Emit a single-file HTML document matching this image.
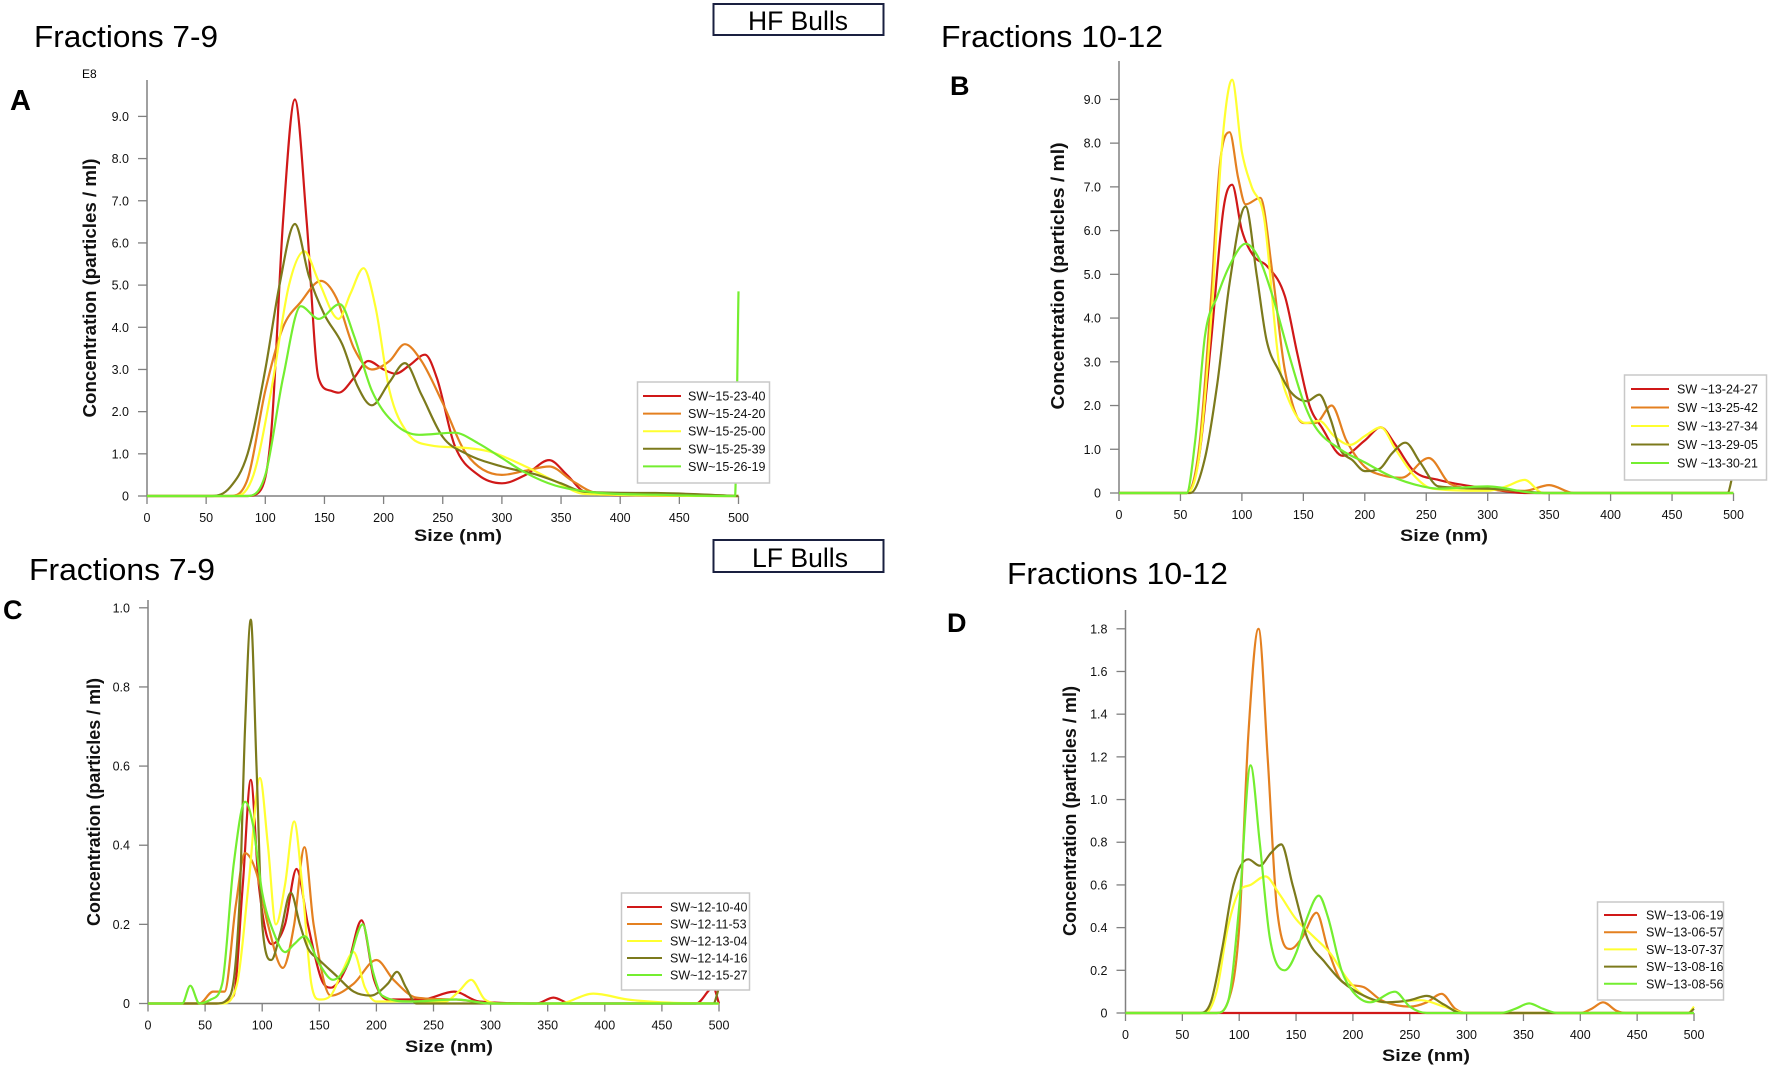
<!DOCTYPE html>
<html><head><meta charset="utf-8"><style>
html,body{margin:0;padding:0;background:#fff;}
svg{display:block;}
text{font-family:"Liberation Sans",sans-serif;}
</style></head><body>
<svg id="fig" width="1772" height="1065" viewBox="0 0 1772 1065" xmlns="http://www.w3.org/2000/svg">
<rect x="0" y="0" width="1772" height="1065" fill="#fff"/>
<text x="34" y="47" font-size="31" textLength="184" lengthAdjust="spacingAndGlyphs">Fractions 7-9</text>
<text x="941" y="47" font-size="31" textLength="222" lengthAdjust="spacingAndGlyphs">Fractions 10-12</text>
<text x="29" y="580" font-size="31" textLength="186" lengthAdjust="spacingAndGlyphs">Fractions 7-9</text>
<text x="1007" y="584" font-size="31" textLength="221" lengthAdjust="spacingAndGlyphs">Fractions 10-12</text>
<g><rect x="713.5" y="4" width="170" height="31" fill="#fff" stroke="#1a2040" stroke-width="2"/>
<text x="798" y="30" font-size="27" text-anchor="middle" textLength="100" lengthAdjust="spacingAndGlyphs">HF Bulls</text></g>
<g><rect x="713.5" y="540" width="170" height="32" fill="#fff" stroke="#1a2040" stroke-width="2"/>
<text x="800" y="567" font-size="27" text-anchor="middle" textLength="96" lengthAdjust="spacingAndGlyphs">LF Bulls</text></g>
<text x="10" y="110" font-size="29" font-weight="bold">A</text>
<text x="950" y="95" font-size="27" font-weight="bold">B</text>
<text x="3" y="619" font-size="27" font-weight="bold">C</text>
<text x="947" y="632" font-size="27" font-weight="bold">D</text>
<text x="82" y="78" font-size="12">E8</text>
</svg>
<script>
// ---- Panel A data (E8 particles/ml) ----
const aNames=["SW~15-23-40","SW~15-24-20","SW~15-25-00","SW~15-25-39","SW~15-26-19"];
const aRedX=[0,85,95,105,115,125,135,145,155,162,175,187,200,210,222,235,245,260,280,300,320,340,355,370,400,500];
const aRedY=[0,0,0.1,1.5,6.5,9.4,6.5,2.8,2.5,2.45,2.8,3.2,3.0,2.9,3.1,3.35,2.8,1.2,0.5,0.3,0.5,0.85,0.5,0.1,0.02,0];
const aOrX=[0,70,85,100,115,130,147,160,175,190,205,218,232,250,270,300,320,340,360,380,430,500];
const aOrY=[0,0,0.4,2.5,4.0,4.6,5.1,4.7,3.5,3.0,3.2,3.6,3.2,2.2,1.0,0.5,0.6,0.7,0.35,0.08,0.06,0];
const aYeX=[0,75,90,105,120,133,145,162,172,183,193,205,220,240,265,290,320,345,370,500];
const aYeY=[0,0,0.5,2.5,5.0,5.8,5.1,4.2,4.8,5.4,4.5,2.5,1.5,1.2,1.15,1.05,0.7,0.35,0.05,0];
const aOlX=[0,55,70,85,100,112,125,137,150,165,178,190,205,218,232,250,270,300,330,350,370,430,500];
const aOlY=[0,0,0.2,1.0,3.0,5.0,6.45,5.2,4.3,3.6,2.6,2.15,2.7,3.15,2.4,1.4,1.0,0.7,0.5,0.3,0.1,0.07,0];
const aGrX=[0,85,100,115,130,145,163,175,190,210,230,260,280,300,320,345,380,430,490,497,500];
const aGrY=[0,0,0.5,2.8,4.5,4.2,4.55,3.8,2.5,1.7,1.45,1.5,1.25,0.9,0.55,0.25,0.08,0.03,0,0,4.85];
const aTicksY=[0,1,2,3,4,5,6,7,8,9];
const aTickLabelsY=["0","1.0","2.0","3.0","4.0","5.0","6.0","7.0","8.0","9.0"];
// ---- Panel B data ----
const bNames=["SW ~13-24-27","SW ~13-25-42","SW ~13-27-34","SW ~13-29-05","SW ~13-30-21"];
const bRedX=[0,55,65,75,85,92,100,110,120,135,145,155,165,182,200,213,225,240,260,300,330,500];
const bRedY=[0,0,0.8,3.5,6.5,7.05,6.0,5.4,5.2,4.5,3.2,2.0,1.5,0.85,1.2,1.5,1.1,0.5,0.3,0.1,0,0];
const bOrX=[0,55,65,75,82,90,97,103,115,125,135,150,160,173,185,200,215,230,252,270,300,330,350,370,500];
const bOrY=[0,0,1.0,4.5,7.5,8.25,7.2,6.6,6.75,5.0,2.8,1.6,1.6,2.0,1.2,0.6,0.4,0.35,0.8,0.2,0.08,0.05,0.18,0,0];
const bYeX=[0,55,65,75,84,92,100,108,118,130,140,152,163,175,188,200,213,225,240,255,300,315,330,345,500];
const bYeY=[0,0,0.8,4.0,8.0,9.45,7.8,7.0,6.3,3.0,2.0,1.6,1.65,1.3,1.1,1.3,1.5,1.0,0.4,0.1,0.05,0.15,0.3,0,0];
const bOlX=[0,58,70,80,90,103,112,120,130,140,153,163,172,180,190,200,212,222,233,245,260,300,350,495,500];
const bOlY=[0,0,0.8,2.5,4.8,6.55,5.0,3.5,2.8,2.3,2.1,2.25,1.7,1.0,0.75,0.5,0.55,0.9,1.15,0.7,0.15,0.1,0,0,0.5];
const bGrX=[0,55,62,70,80,90,103,115,125,140,150,160,180,200,220,240,260,300,340,500];
const bGrY=[0,0,1.2,3.6,4.5,5.2,5.7,5.3,4.5,3.0,2.1,1.5,1.0,0.7,0.4,0.2,0.1,0.15,0,0];
const bTicksY=[0,1,2,3,4,5,6,7,8,9];
const bTickLabelsY=["0","1.0","2.0","3.0","4.0","5.0","6.0","7.0","8.0","9.0"];
// ---- Panel C data ----
const cNames=["SW~12-10-40","SW~12-11-53","SW~12-13-04","SW~12-14-16","SW~12-15-27"];
const cRedX=[0,60,75,83,90,97,108,120,130,140,152,160,175,187,198,210,240,268,290,340,355,370,480,495,500];
const cRedY=[0,0,0.02,0.3,0.565,0.3,0.15,0.2,0.34,0.2,0.06,0.04,0.1,0.21,0.06,0.01,0.01,0.03,0.005,0,0.015,0,0,0.04,0];
const cOrX=[0,45,57,67,77,85,95,105,118,128,137,145,160,180,200,215,235,270,300,500];
const cOrY=[0,0,0.03,0.03,0.25,0.38,0.33,0.2,0.09,0.2,0.395,0.2,0.02,0.05,0.11,0.06,0.015,0.01,0,0];
const cYeX=[0,65,78,88,98,105,112,120,128,135,143,150,160,170,180,190,200,260,272,283,295,310,360,390,420,450,500];
const cYeY=[0,0,0.05,0.3,0.57,0.4,0.2,0.3,0.46,0.3,0.05,0.01,0.02,0.08,0.13,0.04,0.005,0.005,0.03,0.06,0.01,0,0,0.025,0.01,0.003,0];
const cOlX=[0,60,72,80,85,90,95,100,108,116,125,133,140,150,165,180,195,210,218,226,235,300,495,500];
const cOlY=[0,0,0.02,0.25,0.7,0.97,0.6,0.2,0.11,0.18,0.28,0.2,0.14,0.11,0.07,0.03,0.02,0.05,0.08,0.04,0,0,0,0.04];
const cGrX=[0,30,37,45,55,65,75,85,92,100,110,120,128,137,150,162,175,188,197,205,230,270,300,500];
const cGrY=[0,0,0.045,0,0.01,0.05,0.35,0.51,0.45,0.28,0.18,0.13,0.15,0.17,0.1,0.06,0.1,0.2,0.08,0.02,0.005,0.01,0,0];
const cTicksY=[0,0.2,0.4,0.6,0.8,1.0];
const cTickLabelsY=["0","0.2","0.4","0.6","0.8","1.0"];
// ---- Panel D data ----
const dNames=["SW~13-06-19","SW~13-06-57","SW~13-07-37","SW~13-08-16","SW~13-08-56"];
const dRedX=[0,80,270,500];
const dRedY=[0,0,0,0];
const dOrX=[0,80,90,100,108,117,125,133,145,155,168,178,190,200,210,225,250,265,278,290,300,400,410,420,432,440,500];
const dOrY=[0,0,0.05,0.4,1.3,1.8,1.2,0.5,0.3,0.35,0.47,0.3,0.15,0.13,0.12,0.06,0.03,0.05,0.09,0.02,0,0,0.02,0.05,0.01,0,0];
const dYeX=[0,70,80,90,100,110,123,135,150,165,180,195,210,230,260,280,300,495,500];
const dYeY=[0,0,0.1,0.4,0.57,0.6,0.64,0.56,0.44,0.36,0.28,0.16,0.08,0.05,0.06,0.03,0,0,0.03];
const dOlX=[0,65,75,85,95,108,118,128,137,147,160,175,190,210,230,250,265,280,295,495,500];
const dOlY=[0,0,0.05,0.3,0.6,0.72,0.69,0.75,0.79,0.6,0.35,0.24,0.15,0.08,0.05,0.06,0.08,0.04,0,0,0.02];
const dGrX=[0,80,90,100,110,118,127,140,150,160,170,178,190,200,215,237,250,265,330,343,355,367,380,500];
const dGrY=[0,0,0.05,0.5,1.16,0.8,0.35,0.2,0.28,0.45,0.55,0.45,0.2,0.1,0.05,0.1,0.03,0,0,0.02,0.045,0.02,0,0];
const dTicksY=[0,0.2,0.4,0.6,0.8,1.0,1.2,1.4,1.6,1.8];
const dTickLabelsY=["0","0.2","0.4","0.6","0.8","1.0","1.2","1.4","1.6","1.8"];
const xTicks=[0,50,100,150,200,250,300,350,400,450,500];
const colors=["#d01818","#e48020","#ffff30","#7c7a1c","#74ee30"];

const NS="http://www.w3.org/2000/svg";
const svg=document.getElementById('fig');
function mk(tag,attrs,parent){const e=document.createElementNS(NS,tag);for(const k in attrs)e.setAttribute(k,attrs[k]);(parent||svg).appendChild(e);return e;}
function monoPath(px,py){
  const n=px.length;const d=[],m=new Array(n);
  for(let i=0;i<n-1;i++)d.push((py[i+1]-py[i])/(px[i+1]-px[i]));
  m[0]=d[0];m[n-1]=d[n-2];
  for(let i=1;i<n-1;i++){m[i]=(d[i-1]*d[i]<=0)?0:(d[i-1]+d[i])/2;}
  for(let i=0;i<n-1;i++){if(d[i]===0){m[i]=0;m[i+1]=0;continue;}const a=m[i]/d[i],b=m[i+1]/d[i];const s=a*a+b*b;if(s>9){const t=3/Math.sqrt(s);m[i]=t*a*d[i];m[i+1]=t*b*d[i];}}
  let p="M"+px[0].toFixed(1)+","+py[0].toFixed(1);
  for(let i=0;i<n-1;i++){const h=(px[i+1]-px[i])/3;
    p+=" C"+(px[i]+h).toFixed(1)+","+(py[i]+m[i]*h).toFixed(1)+" "+(px[i+1]-h).toFixed(1)+","+(py[i+1]-m[i+1]*h).toFixed(1)+" "+px[i+1].toFixed(1)+","+py[i+1].toFixed(1);}
  return p;
}
function panel(c){
  const g=mk('g',{});
  
  
  const xs=v=>c.x0+(v/500)*(c.x1-c.x0);
  const ys=v=>c.y0-(v/c.yRef)*(c.y0-c.yRefPx);
  const ya=mk('line',{x1:c.x0,y1:c.top,x2:c.x0,y2:c.y0,stroke:'#808080','stroke-width':1.5},g);
  
  
  const xa=mk('line',{x1:c.x0,y1:c.y0,x2:c.x1,y2:c.y0,stroke:'#808080','stroke-width':1.5},g);
  
  
  c.ticksY.forEach((v,i)=>{const y=ys(v);
    mk('line',{x1:c.x0-9,y1:y,x2:c.x0,y2:y,stroke:'#808080','stroke-width':1.3},g);
    const t=mk('text',{x:c.x0-18,y:y+4.5,'font-size':12.5,'text-anchor':'end',fill:'#111'},g);
    t.textContent=c.labelsY[i];
    
    
  });
  xTicks.forEach(v=>{const x=xs(v);
    mk('line',{x1:x,y1:c.y0,x2:x,y2:c.y0+8,stroke:'#808080','stroke-width':1.3},g);
    const t=mk('text',{x:x,y:c.y0+26,'font-size':12.5,'text-anchor':'middle',fill:'#111'},g);
    t.textContent=String(v);
    
    
  });
  const xt=mk('text',{x:c.xtx,y:c.xty,'font-size':17,'font-weight':600,'text-anchor':'middle',fill:'#111',textLength:88,lengthAdjust:'spacingAndGlyphs'},g);
  xt.textContent='Size (nm)';
  
  
  const yt=mk('text',{x:0,y:0,'font-size':18,'font-weight':600,'text-anchor':'middle',fill:'#111',transform:'translate('+c.ytx+','+c.yty+') rotate(-90)',textLength:c.ytl,lengthAdjust:'spacingAndGlyphs'},g);
  yt.textContent='Concentration (particles / ml)';
  
  
  c.series.forEach((s,i)=>{
    const p=mk('path',{d:monoPath(s[0].map(xs),s[1].map(ys)),fill:'none',stroke:colors[i],'stroke-width':2.2,'stroke-linejoin':'round'},g);
    
    
  });
  const L=c.leg;
  const lg=mk('g',{},g);
  
  
  mk('rect',{x:L.x,y:L.y,width:L.w,height:L.h,fill:'#fff',stroke:'#c8c8c8','stroke-width':1.5},lg);
  c.names.forEach((n,i)=>{const y=L.ey[0]+i*L.dy;
    const e=mk('g',{},lg);
    
    
    mk('line',{x1:L.lx1,y1:y,x2:L.lx2,y2:y,stroke:colors[i],'stroke-width':2},e);
    const t=mk('text',{x:L.tx,y:y+4.5,'font-size':12.5,fill:'#111'},e);
    t.textContent=n;
  });
}
panel({id:'a',x0:147,x1:738.5,y0:496,yRef:9,yRefPx:116.4,top:80,ticksY:aTicksY,labelsY:aTickLabelsY,
  xtx:458,xty:541,ytx:96,yty:288,ytl:259,names:aNames,
  series:[[aRedX,aRedY],[aOrX,aOrY],[aYeX,aYeY],[aOlX,aOlY],[aGrX,aGrY]],
  leg:{x:637.5,y:382,w:132,h:101,ey:[396],dy:17.6,lx1:643,lx2:681,tx:688}});
panel({id:'b',x0:1119,x1:1733.5,y0:493,yRef:9,yRefPx:99.4,top:61,ticksY:bTicksY,labelsY:bTickLabelsY,
  xtx:1444,xty:541,ytx:1064,yty:276,ytl:267,names:bNames,
  series:[[bRedX,bRedY],[bOrX,bOrY],[bYeX,bYeY],[bOlX,bOlY],[bGrX,bGrY]],
  leg:{x:1624.5,y:375,w:142,h:105,ey:[389],dy:18.5,lx1:1631,lx2:1669,tx:1677}});
panel({id:'c',x0:148,x1:719,y0:1003.5,yRef:1,yRefPx:607.8,top:600,ticksY:cTicksY,labelsY:cTickLabelsY,
  xtx:449,xty:1052,ytx:100,yty:802,ytl:248,names:cNames,
  series:[[cRedX,cRedY],[cOrX,cOrY],[cYeX,cYeY],[cOlX,cOlY],[cGrX,cGrY]],
  leg:{x:621.5,y:893,w:128,h:97,ey:[907],dy:17,lx1:627,lx2:662,tx:670}});
panel({id:'d',x0:1125.5,x1:1694,y0:1013,yRef:1.8,yRefPx:628.8,top:610,ticksY:dTicksY,labelsY:dTickLabelsY,
  xtx:1426,xty:1061,ytx:1076,yty:811,ytl:250,names:dNames,
  series:[[dRedX,dRedY],[dOrX,dOrY],[dYeX,dYeY],[dOlX,dOlY],[dGrX,dGrY]],
  leg:{x:1597.5,y:902,w:126,h:98,ey:[915],dy:17.2,lx1:1604,lx2:1637,tx:1646}});
</script>
</body></html>
